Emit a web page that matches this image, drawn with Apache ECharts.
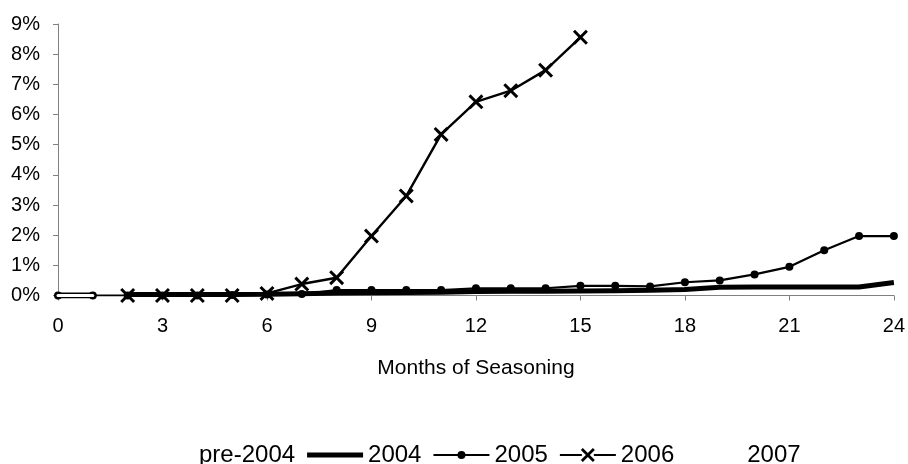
<!DOCTYPE html>
<html>
<head>
<meta charset="utf-8">
<script src="https://cdn.jsdelivr.net/npm/echarts@6/dist/echarts.min.js"></script>
<style>
html,body{margin:0;padding:0;background:#fff;}
#chart{width:908px;height:464px;}
</style>
</head>
<body>
<div id="chart"></div>
<script>
// ---- data ----
const months = [0,1,2,3,4,5,6,7,8,9,10,11,12,13,14,15,16,17,18,19,20,21,22,23,24];
const seriesNames = ['pre-2004','2004','2005','2006','2007'];
const xTicks = [0,3,6,9,12,15,18,21,24];
const yTicks = [0,1,2,3,4,5,6,7,8,9];
// values in percent, null = no data
const pre2004 = [0,0,null,null,null,null,null,null,null,null,null,null,null,null,null,null,null,null,null,null,null,null,null,null,null];
const v2004 = [null,null,0.03,0.03,0.03,0.03,0.04,0.06,0.08,0.09,0.10,0.11,0.13,0.14,0.14,0.15,0.16,0.17,0.20,0.27,0.28,0.28,0.28,0.28,0.43];
const v2005 = [0,0,0,0,0,0.02,0.03,0.05,0.18,0.18,0.18,0.18,0.24,0.24,0.24,0.32,0.32,0.30,0.44,0.50,0.70,0.95,1.50,1.97,1.97];
const v2006 = [null,null,0,0,0,0,0.07,0.38,0.59,1.97,3.30,5.34,6.42,6.79,7.47,8.56,null,null,null,null,null,null,null,null,null];
const v2007 = [0,0,null,null,null,null,null,null,null,null,null,null,null,null,null,null,null,null,null,null,null,null,null,null,null];

const pairs = arr => months.map((m,i) => [m, arr[i] === null ? '-' : arr[i]]);
const FONT = 'Liberation Sans, Arial, sans-serif';
const XSYM = 'path://M0,14L14,0L50,36L86,0L100,14L64,50L100,86L86,100L50,64L14,100L0,86L36,50Z';

// legend icons (56 x 14 boxes, tiny corner anchors fix the bounding box)
const ANCH = 'M0,0L0.05,0L0,0.05Z M56,14L55.95,14L56,13.95Z ';
const ICON_2004 = 'path://' + ANCH + 'M0,4.5L56,4.5L56,9.5L0,9.5Z';
const ICON_2005 = 'path://' + ANCH + 'M0,6L24.5,6L24.5,8L0,8Z M31.5,6L56,6L56,8L31.5,8Z M24,7A4,4 0 1,1 32,7A4,4 0 1,1 24,7Z';
const ICON_2006 = 'path://' + ANCH + 'M0,6L22,6L22,8L0,8Z M34,6L56,6L56,8L34,8Z ' +
  'M21,1.96L22.96,0L28,5.04L33.04,0L35,1.96L29.96,7L35,12.04L33.04,14L28,8.96L22.96,14L21,12.04L26.04,7Z';

const chart = echarts.init(document.getElementById('chart'));
chart.setOption({
  animation: false,
  backgroundColor: '#fff',
  grid: {left: 58, right: 12, top: 24, bottom: 168.5, containLabel: false},
  legend: {
    left: 133, top: 438,
    itemWidth: 56, itemHeight: 14, itemGap: 12,
    symbolKeepAspect: false,
    textStyle: {fontFamily: FONT, fontSize: 24, color: '#000'},
    data: [
      {name: seriesNames[0], icon: 'path://' + ANCH, itemStyle: {opacity: 0}},
      {name: seriesNames[1], icon: ICON_2004, itemStyle: {color: '#000'}},
      {name: seriesNames[2], icon: ICON_2005, itemStyle: {color: '#000'}},
      {name: seriesNames[3], icon: ICON_2006, itemStyle: {color: '#000'}},
      {name: seriesNames[4], icon: 'path://' + ANCH, itemStyle: {opacity: 0}}
    ]
  },
  xAxis: {
    type: 'value', min: xTicks[0], max: xTicks[xTicks.length-1], interval: 3,
    name: 'Months of Seasoning', nameLocation: 'middle', nameGap: 62,
    nameTextStyle: {fontFamily: FONT, fontSize: 21, color: '#000'},
    axisLine: {show: true, lineStyle: {color: '#808080', width: 1}},
    axisTick: {show: true, inside: false, length: 5, lineStyle: {color: '#808080'}},
    axisLabel: {fontFamily: FONT, fontSize: 20, color: '#000', margin: 21},
    splitLine: {show: false}
  },
  yAxis: {
    type: 'value', min: yTicks[0], max: yTicks[yTicks.length-1], interval: 1,
    axisLine: {show: true, lineStyle: {color: '#808080', width: 1}},
    axisTick: {show: true, inside: false, length: 5, lineStyle: {color: '#808080'}},
    axisLabel: {fontFamily: FONT, fontSize: 20, color: '#000', margin: 18, formatter: '{value}%'},
    splitLine: {show: false}
  },
  series: [
    {name: seriesNames[0], type: 'line', data: pairs(pre2004), showSymbol: false, symbol: 'none',
     lineStyle: {color: '#000', width: 6, cap: 'round'}, itemStyle: {color: '#000'}, z: 6},
    {name: seriesNames[1], type: 'line', data: pairs(v2004), symbol: 'none',
     lineStyle: {color: '#000', width: 5}, itemStyle: {color: '#000'}, z: 2},
    {name: seriesNames[2], type: 'line', data: pairs(v2005), symbol: 'circle', symbolSize: 8,
     lineStyle: {color: '#000', width: 2.2}, itemStyle: {color: '#000'}, z: 3},
    {name: seriesNames[3], type: 'line', data: pairs(v2006), symbol: XSYM, symbolSize: 15,
     lineStyle: {color: '#000', width: 2.4}, itemStyle: {color: '#000'}, z: 4},
    {name: seriesNames[4], type: 'line', data: pairs(v2007), symbol: 'none',
     lineStyle: {color: '#fff', width: 3, cap: 'round'}, itemStyle: {color: '#fff'}, z: 7}
  ]
});
</script>
</body>
</html>
